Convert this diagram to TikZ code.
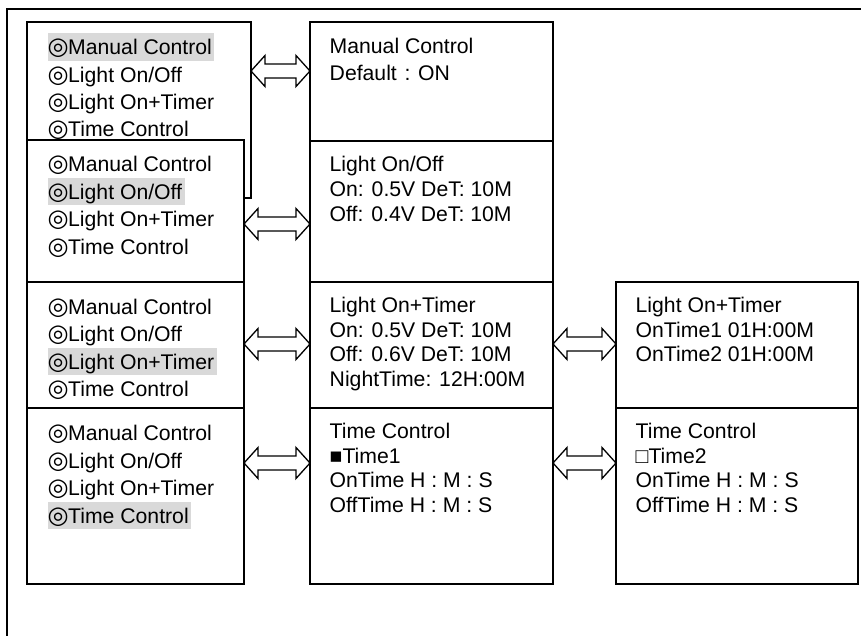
\documentclass[tikz,border=0pt]{standalone}
\usepackage{fontspec}
\setmainfont{Liberation Sans}
\newfontfamily\symfont{DejaVu Sans}
\usetikzlibrary{calc}
\definecolor{hlgray}{RGB}{217,217,217}
\setlength{\fboxsep}{0pt}
\newcommand{\dc}{\makebox[20.5pt][l]{\scalebox{1.14}{\symfont ◎}}}
\newcommand{\lstrut}{\rule[-6pt]{0pt}{27.4pt}}
\newcommand{\mstrut}{\rule[-5pt]{0pt}{22pt}}
\newcommand{\hlline}[1]{\colorbox{hlgray}{\lstrut#1\hspace{2.5pt}}}
\tikzset{
  box/.style={draw, fill=white, line width=1.6pt, inner sep=0pt, outer sep=0pt, anchor=north west},
  frame/.style={line width=2pt},
  ltext/.style={anchor=north west, inner sep=0pt, align=left, font=\fontsize{21.2}{27.4}\selectfont},
  mtext/.style={anchor=north west, inner sep=0pt, align=left, font=\fontsize{21.2}{24.7}\selectfont},
  dblarr/.style={draw, fill=white, line width=1.3pt, line join=miter, to path={
    let \p1=(\tikztostart), \p2=(\tikztotarget) in
    (\x1,\y1) -- (\x1+14pt,\y1+15.5pt) -- (\x1+14pt,\y1+7pt) -- (\x2-14pt,\y1+7pt)
    -- (\x2-14pt,\y1+15.5pt) -- (\x2,\y1) -- (\x2-14pt,\y1-15.5pt) -- (\x2-14pt,\y1-7pt)
    -- (\x1+14pt,\y1-7pt) -- (\x1+14pt,\y1-15.5pt) -- cycle}}
}
\begin{document}
\begin{tikzpicture}[x=1pt,y=-1pt]
\useasboundingbox (0,0) rectangle (861,635);
\draw[frame] (7,640) -- (7,9) -- (866,9);

% left column
\node[box, minimum width=224pt, minimum height=176pt] (L1) at (27,22) {};
\node[ltext] (t1) at (47.5,33.1) {\hlline{\dc Manual Control}\\\lstrut\dc Light On/Off\\\lstrut\dc Light On+Timer\\\lstrut\dc Time Control};
\node[box, minimum width=217pt, minimum height=142pt] (L2) at (27,140) {};
\node[ltext] (t2) at (47.5,150.3) {\lstrut\dc Manual Control\\\hlline{\dc Light On/Off}\\\lstrut\dc Light On+Timer\\\lstrut\dc Time Control};
\node[box, minimum width=217pt, minimum height=126pt] (L3) at (27,282) {};
\node[ltext] (t3) at (47.5,292.6) {\lstrut\dc Manual Control\\\lstrut\dc Light On/Off\\\hlline{\dc Light On+Timer}\\\lstrut\dc Time Control};
\node[box, minimum width=217pt, minimum height=176pt] (L4) at (27,408) {};
\node[ltext] (t4) at (47.5,419.3) {\lstrut\dc Manual Control\\\lstrut\dc Light On/Off\\\lstrut\dc Light On+Timer\\\hlline{\dc Time Control}};

% middle column
\node[box, minimum width=243pt, minimum height=119pt] (M1) at (310,22) {};
\node[mtext, font=\fontsize{21.2}{26.5}\selectfont] (u1) at (329.5,36.5) {\mstrut Manual Control\\Default\makebox[21.2pt]{:}ON};
\node[box, minimum width=243pt, minimum height=141pt] (M2) at (310,141) {};
\node[mtext] (u2) at (329.5,154.7) {\mstrut Light On/Off\\On: 0.5V DeT: 10M\\Off: 0.4V DeT: 10M};
\node[box, minimum width=243pt, minimum height=126pt] (M3) at (310,282) {};
\node[mtext] (u3) at (329.5,295.3) {\mstrut Light On+Timer\\On: 0.5V DeT: 10M\\Off: 0.6V DeT: 10M\\NightTime: 12H:00M};
\node[box, minimum width=243pt, minimum height=176pt] (M4) at (310,408) {};
\node[mtext] (u4) at (329.5,421.3) {\mstrut Time Control\\■Time1\\OnTime H : M : S\\OffTime H : M : S};

% right column
\node[box, minimum width=242pt, minimum height=126pt] (R1) at (616,282) {};
\node[mtext] (v1) at (635.5,295.3) {\mstrut Light On+Timer\\OnTime1 01H:00M\\OnTime2 01H:00M};
\node[box, minimum width=242pt, minimum height=176pt] (R2) at (616,408) {};
\node[mtext] (v2) at (635.5,421.3) {\mstrut Time Control\\□Time2\\OnTime H : M : S\\OffTime H : M : S};

% arrows
\draw[dblarr] (L1.east |- 0,71) to (M1.west |- 0,71);
\draw[dblarr] (L2.east |- 0,224) to (M2.west |- 0,224);
\draw[dblarr] (L3.east |- 0,344) to (M3.west |- 0,344);
\draw[dblarr] (L4.east |- 0,463) to (M4.west |- 0,463);
\draw[dblarr] (M3.east |- 0,344) to (R1.west |- 0,344);
\draw[dblarr] (M4.east |- 0,463) to (R2.west |- 0,463);
\end{tikzpicture}
\end{document}
